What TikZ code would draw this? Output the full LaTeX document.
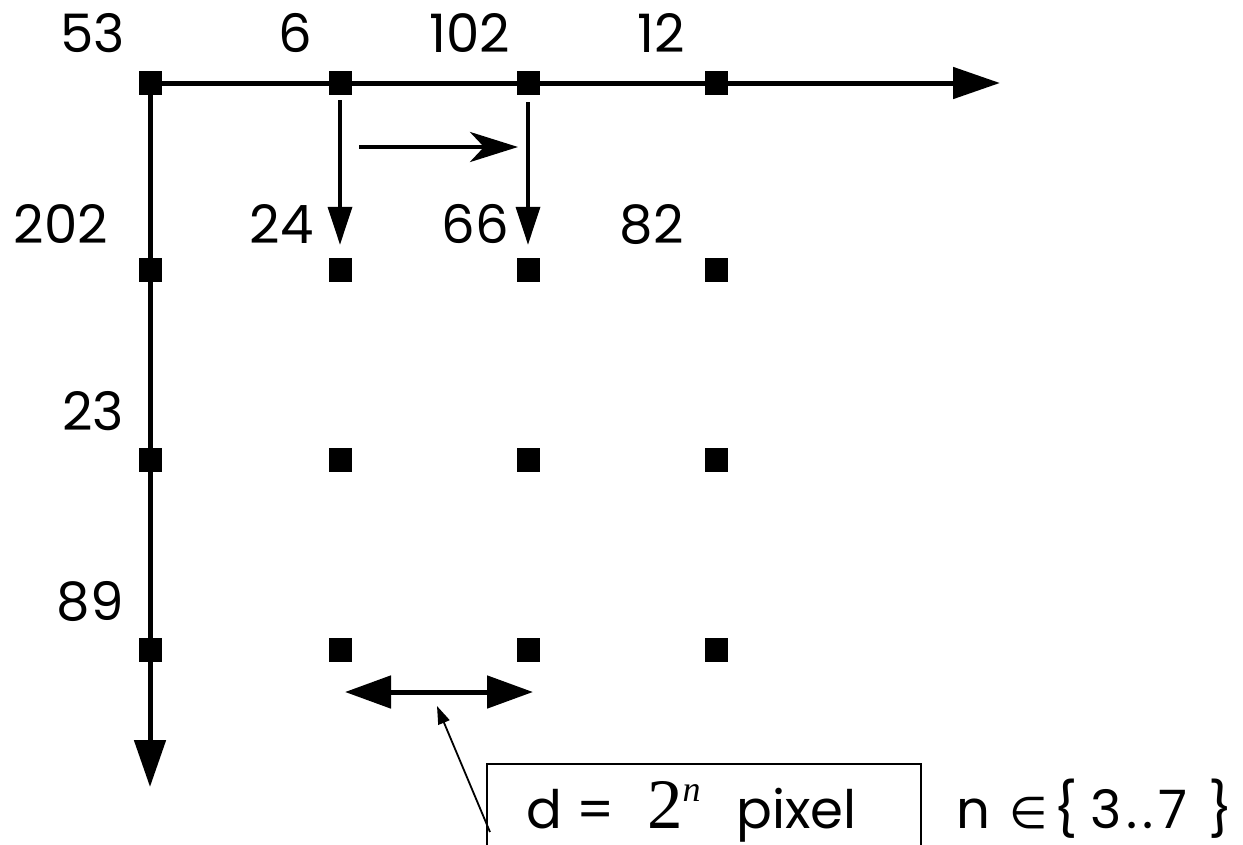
\documentclass[tikz,border=0pt]{standalone}
\usepackage{fontspec}
\setmainfont{Poppins}
\newfontfamily\timesfont{Liberation Serif}
\newfontfamily\symfont{DejaVu Sans}
\usetikzlibrary{arrows.meta}
\begin{document}
\begin{tikzpicture}[x=1pt,y=-1pt,
  dot/.style={fill=black, minimum width=23pt, minimum height=24pt, inner sep=0pt},
  lbl/.style={font=\fontsize{53}{58}\selectfont, inner sep=0pt},
  axis/.style={line width=5pt, -{Triangle[length=47pt,width=31pt]}},
  flow/.style={line width=3.5pt, -{Triangle[length=38pt,width=24pt]}},
  shiftarrow/.style={line width=4.5pt, -{Stealth[length=48pt,width=30pt,inset=14pt]}},
  span/.style={line width=5pt, {Triangle[length=46pt,width=32pt]}-{Triangle[length=46pt,width=32pt]}},
  pointer/.style={line width=1.8pt, -{Triangle[length=18pt,width=12pt]}},
  frame/.style={draw, line width=1.8pt, minimum width=434pt, minimum height=100pt, inner sep=0pt}]
\useasboundingbox (0,0) rectangle (1243,844);

% axis end points and free arrow ends
\coordinate (xend) at (1000,83);
\coordinate (yend) at (150,787);
\coordinate (h1) at (359,147);
\coordinate (h2) at (518,147);
\coordinate (dl) at (345,692);
\coordinate (dr) at (533,692);
\coordinate (ptail) at (490,832);
\coordinate (ptip) at (437,706);

% axes
\draw[axis] (150,83) -- (xend);
\draw[axis] (150,83) -- (yend);

% grid of sample points
\foreach \c/\x in {0/150,1/340,2/528,3/716}
  \foreach \r/\y in {0/83,1/270,2/460,3/650}
    \node[dot] (g\c\r) at (\x,\y) {};

% propagation arrows
\draw[flow] ([yshift=-5pt]g10.south) -- ([yshift=13pt]g11.north);
\draw[flow] ([yshift=-7pt]g20.south) -- ([yshift=13pt]g21.north);
\draw[shiftarrow] (h1) -- (h2);
\draw[span] (dl) -- (dr);

% values
\node[lbl, anchor=base east] (v53)  at (125,52)  {53};
\node[lbl, anchor=base east] (v6)   at (312,52)  {6};
\node[lbl, anchor=base east] (v102) at (510,52)  {102};
\node[lbl, anchor=base east] (v12)  at (685,52)  {12};
\node[lbl, anchor=base east] (v202) at (108,243) {202};
\node[lbl, anchor=base east] (v24)  at (314,243) {24};
\node[lbl, anchor=base east] (v66)  at (509,243) {66};
\node[lbl, anchor=base east] (v82)  at (684,243) {82};
\node[lbl, anchor=base east] (v23)  at (124,430) {23};
\node[lbl, anchor=base east] (v89)  at (124,620) {89};

% spacing legend
\node[frame] (box) at (704,814) {};
\node[lbl, anchor=base west] (dtext) at (526,828)
  {\rlap{d}\hspace{50pt}\rlap{=}\hspace{71pt}%
   \rlap{\timesfont\fontsize{71}{74}\selectfont 2\raisebox{27pt}{\fontsize{36}{38}\selectfont\itshape n}}%
   \hspace{89pt}pixel};
\node[lbl, anchor=base west] (nset) at (956,828)
  {\rlap{n}\hspace{53pt}\rlap{\symfont\fontsize{44}{50}\selectfont ∈}\hspace{44pt}\rlap{\{}\hspace{37pt}%
   \rlap{3\hspace{5pt}.\hspace{5pt}.\hspace{5pt}7}\hspace{118pt}\}};
\draw[pointer] (ptail) -- (ptip);
\end{tikzpicture}
\end{document}
